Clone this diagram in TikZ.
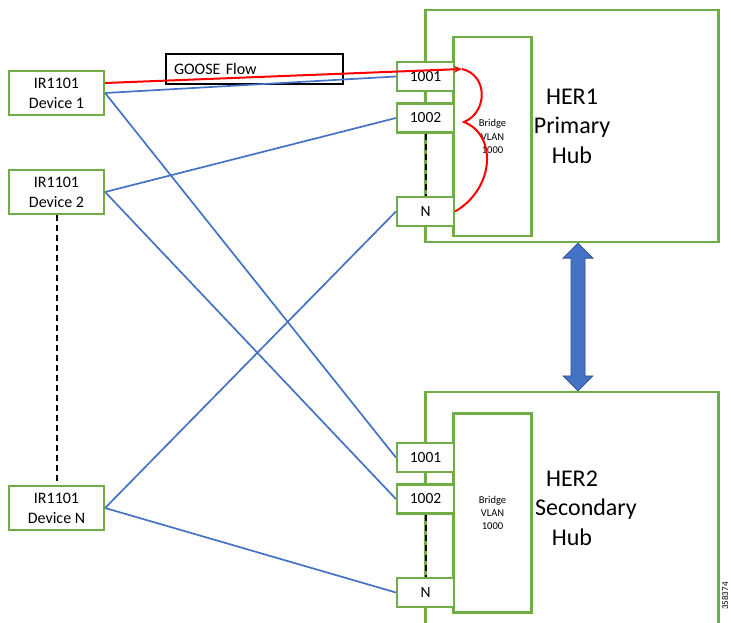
\documentclass[tikz,border=0pt]{standalone}
\usepackage{fontspec}
\setmainfont{Carlito}
\usepackage{tikz}
\usetikzlibrary{arrows.meta, positioning, calc}

\definecolor{hubgreen}{HTML}{70AD47}
\definecolor{linkblue}{HTML}{4472C4}
\definecolor{linkedge}{HTML}{2F528F}
\definecolor{flowred}{HTML}{FF0000}

\begin{document}
\begin{tikzpicture}[
    x=1pt, y=-1pt,
    every node/.style={font=\fontsize{16}{20}\selectfont},
    box/.style={draw=hubgreen, line width=2.2pt, fill=white, inner sep=0pt, anchor=center},
    device/.style={box, minimum width=95pt, minimum height=44pt, align=center},
    port/.style={box, minimum width=57pt, minimum height=29pt, font=\fontsize{15.5}{18}\selectfont},
    bridge/.style={box, minimum width=78pt, minimum height=199pt, align=center, font=\fontsize{10.5}{13.3}\selectfont},
    hub/.style={box, minimum width=293pt},
    hubname/.style={align=center, font=\fontsize{24}{29.5}\selectfont},
    link/.style={draw=linkblue, line width=1.7pt},
    flow/.style={draw=flowred, line width=2pt},
    gap/.style={draw=black, line width=2pt, dash pattern=on 6pt off 4pt},
    ]
    
    \useasboundingbox (0,0) rectangle (731,622);
    \clip (0,0) rectangle (731,622);
    
    % Hubs
    \node[hub, minimum height=232pt] (her1) at (572,126) {};
    \node[hub, minimum height=258pt] (her2) at (572,521) {};
    \node[bridge] (bridge1) at (492.5,136.5) {Bridge\\VLAN\\1000};
    \node[bridge] (bridge2) at (492.5,513) {Bridge\\VLAN\\1000};
    \node[hubname] at (572,126) {HER1\\Primary\\Hub};
    \node[hubname] at (572,508) {HER2\\\hspace*{28pt}Secondary\\Hub};
    
    % Ports on HER1
    \node[port] (p1001a) at (425.5,76.5) {1001};
    \node[port] (p1002a) at (425.5,118) {1002};
    \node[port] (pNa) at (425.5,211.5) {N};
    
    % Ports on HER2
    \node[port] (p1001b) at (425.5,457.5) {1001};
    \node[port] (p1002b) at (425.5,499) {1002};
    \node[port] (pNb) at (425.5,592.5) {N};
    
    \draw[gap] (p1002a.south) -- (pNa.north);
    \draw[gap] (p1002b.south) -- (pNb.north);
    
    % Devices
    \node[device] (dev1) at (56.5,93) {IR1101\\Device 1};
    \node[device] (dev2) at (56.5,192) {IR1101\\Device 2};
    \node[device] (devN) at (56.5,508) {IR1101\\Device N};
    \draw[gap] (dev2.south) -- (devN.north);
    
    % GOOSE label
    \node[draw=black, line width=1.5pt, text width=161pt, inner xsep=8pt, minimum height=30pt, align=left] (goose) at (254.5,69) {GOOSE Flow};
    
    % Uplinks
    \foreach \dev/\pa/\pb in {dev1/p1001a/p1001b, dev2/p1002a/p1002b, devN/pNa/pNb} {
        \draw[link] (\dev.east) -- (\pa.west);
        \draw[link] (\dev.east) -- (\pb.west);
    }
    
    % GOOSE flow
    \coordinate (gooseTip) at (462,69);
    \coordinate (flowTurn) at (464,122);
    \draw[flow, -{Stealth[length=8pt, width=7pt]}] ([yshift=10pt]dev1.east) -- (gooseTip);
    \draw[flow] (gooseTip) .. controls (488,75) and (488,112) .. (flowTurn)
        .. controls (497,135) and (495,188) .. (pNa.east);
    
    % HER1 - HER2 link
    \coordinate (linkTop) at (her1.south -| 578,0);
    \coordinate (linkBot) at (her2.north -| 578,0);
    \filldraw[fill=linkblue, draw=linkedge, line width=0.8pt] (linkTop) -- ++(15,15) -- ++(-8,0)
        -- ($(linkBot)+(7,-15)$) -- ++(8,0) -- (linkBot) -- ++(-15,-15) -- ++(8,0)
        -- ($(linkTop)+(-7,15)$) -- ++(-8,0) -- cycle;
    
    \node[rotate=90, font=\fontsize{9}{11}\selectfont] at (725,596) {358374};
    
\end{tikzpicture}
\end{document}
